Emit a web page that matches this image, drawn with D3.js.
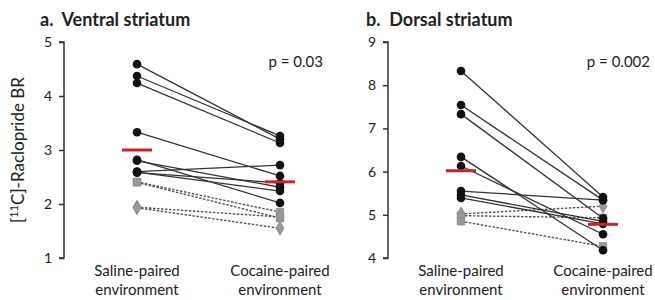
<!DOCTYPE html>
<html>
<head>
<meta charset="utf-8">
<script src="https://cdn.jsdelivr.net/npm/d3@7"></script>
<style>
  body { margin: 0; background: #fff; }
  text { font-family: Lato, "Open Sans", sans-serif; fill: #222; }
</style>
</head>
<body>
<svg id="chart" width="655" height="300"></svg>
<script>
// conditions on the x axis
const conditions = ['Saline', 'Cocaine'];
const conditionLabels = [['Saline-paired', 'environment'], ['Cocaine-paired', 'environment']];

// ventral striatum, one subject per index
const ventralSaline  = [4.59, 4.37, 4.24, 3.33, 2.82, 2.80, 2.60, 2.59, 2.58, 2.41, 2.40, 1.94, 1.93];
const ventralCocaine = [3.20, 3.26, 3.13, 2.52, 2.02, 2.31, 2.72, 2.24, 2.39, 1.85, 1.74, 1.76, 1.55];
const ventralGroup   = ['c', 'c', 'c', 'c', 'c', 'c', 'c', 'c', 'c', 's', 's', 'd', 'd'];
const ventralMeans   = [3.0, 2.41];

// dorsal striatum
const dorsalSaline  = [8.33, 7.54, 7.33, 6.34, 6.13, 5.55, 5.46, 5.39, 5.02, 4.98, 4.85];
const dorsalCocaine = [5.41, 5.34, 4.92, 4.18, 4.55, 5.34, 4.85, 4.79, 5.20, 4.93, 4.27];
const dorsalGroup   = ['c', 'c', 'c', 'c', 'c', 'c', 'c', 'c', 'd', 's', 's'];
const dorsalMeans   = [6.02, 4.78];

const ventralTicks = [1, 2, 3, 4, 5];
const dorsalTicks = [4, 5, 6, 7, 8, 9];

const svg = d3.select('#chart');

function drawPanel(opt) {
  const y = d3.scaleLinear().domain(opt.domain).range([258, 42]);
  const x = d3.scalePoint().domain(conditions).range(opt.xRange);

  const g = svg.append('g');

  // title
  g.append('text')
    .attr('x', opt.titleX).attr('y', 26)
    .attr('font-size', 18).attr('font-weight', 'bold')
    .style('white-space', 'pre')
    .text(opt.title);

  // y axis
  const yAxis = d3.axisLeft(y).tickValues(opt.ticks).tickSize(5).tickPadding(7).tickFormat(d3.format('d'));
  const ax = g.append('g').attr('transform', `translate(${opt.axisX},0)`).call(yAxis);
  ax.select('.domain').attr('stroke', '#333').attr('stroke-width', 1.5).attr('d', `M-5,${y.range()[0]}H0V${y.range()[1]}H-5`);
  ax.selectAll('.tick line').attr('stroke', '#333').attr('stroke-width', 1.5);
  ax.selectAll('.tick text').attr('font-size', 14).attr('font-family', 'Lato, sans-serif').attr('fill', '#333');

  // x labels, one text per line
  conditions.forEach((c, i) => {
    conditionLabels[i].forEach((line, j) => {
      g.append('text')
        .attr('x', x(c)).attr('y', 276 + j * 19)
        .attr('text-anchor', 'middle').attr('font-size', 15)
        .text(line);
    });
  });

  // p value
  g.append('text')
    .attr('x', opt.pX).attr('y', 67)
    .attr('text-anchor', 'end').attr('font-size', 15)
    .text(opt.p);

  const pairs = opt.saline.map((v, i) => ({ s: v, c: opt.cocaine[i], grp: opt.group[i] }));
  const gray = pairs.filter(d => d.grp !== 'c');
  const black = pairs.filter(d => d.grp === 'c');

  // gray dashed lines first, black on top
  g.selectAll('.gline').data(gray).enter().append('line')
    .attr('x1', x('Saline')).attr('x2', x('Cocaine'))
    .attr('y1', d => y(d.s)).attr('y2', d => y(d.c))
    .attr('stroke', '#555').attr('stroke-width', 1.4).attr('stroke-dasharray', '2.5,1.5');

  g.selectAll('.bline').data(black).enter().append('line')
    .attr('x1', x('Saline')).attr('x2', x('Cocaine'))
    .attr('y1', d => y(d.s)).attr('y2', d => y(d.c))
    .attr('stroke', '#333').attr('stroke-width', 1.3);

  const symSquare = d3.symbol().type(d3.symbolSquare).size(55);
  const symDiamond = d3.symbol().type(d3.symbolDiamond).size(55);

  conditions.forEach(c => {
    const val = d => (c === 'Saline' ? d.s : d.c);
    g.selectAll(null).data(gray).enter().append('path')
      .attr('transform', d => `translate(${x(c)},${y(val(d))})`)
      .attr('d', d => (d.grp === 's' ? symSquare() : symDiamond()))
      .attr('fill', '#999').attr('stroke', '#888').attr('stroke-width', 0.8);
    g.selectAll(null).data(black).enter().append('circle')
      .attr('cx', x(c)).attr('cy', d => y(val(d)))
      .attr('r', 4.3).attr('fill', '#111');
  });

  // group means
  g.selectAll('.mean').data(opt.means).enter().append('line')
    .attr('x1', (d, i) => x(conditions[i]) - 15).attr('x2', (d, i) => x(conditions[i]) + 15)
    .attr('y1', d => y(d)).attr('y2', d => y(d))
    .attr('stroke', '#c8232c').attr('stroke-width', 3);
}

drawPanel({
  title: 'a.  Ventral striatum', titleX: 40, domain: [1, 5], ticks: ventralTicks,
  axisX: 64, xRange: [137, 280], p: 'p = 0.03', pX: 323,
  saline: ventralSaline, cocaine: ventralCocaine, group: ventralGroup, means: ventralMeans
});

drawPanel({
  title: 'b.  Dorsal striatum', titleX: 366, domain: [4, 9], ticks: dorsalTicks,
  axisX: 388, xRange: [461, 603], p: 'p = 0.002', pX: 650,
  saline: dorsalSaline, cocaine: dorsalCocaine, group: dorsalGroup, means: dorsalMeans
});

// shared y label
const yl = svg.append('text')
  .attr('transform', 'translate(24,150) rotate(-90)')
  .attr('text-anchor', 'middle').attr('font-size', 17);
yl.append('tspan').text('[');
yl.append('tspan').attr('font-size', 11).attr('dy', -6).text('11');
yl.append('tspan').attr('dy', 6).text('C]-Raclopride BR');
</script>
</body>
</html>
